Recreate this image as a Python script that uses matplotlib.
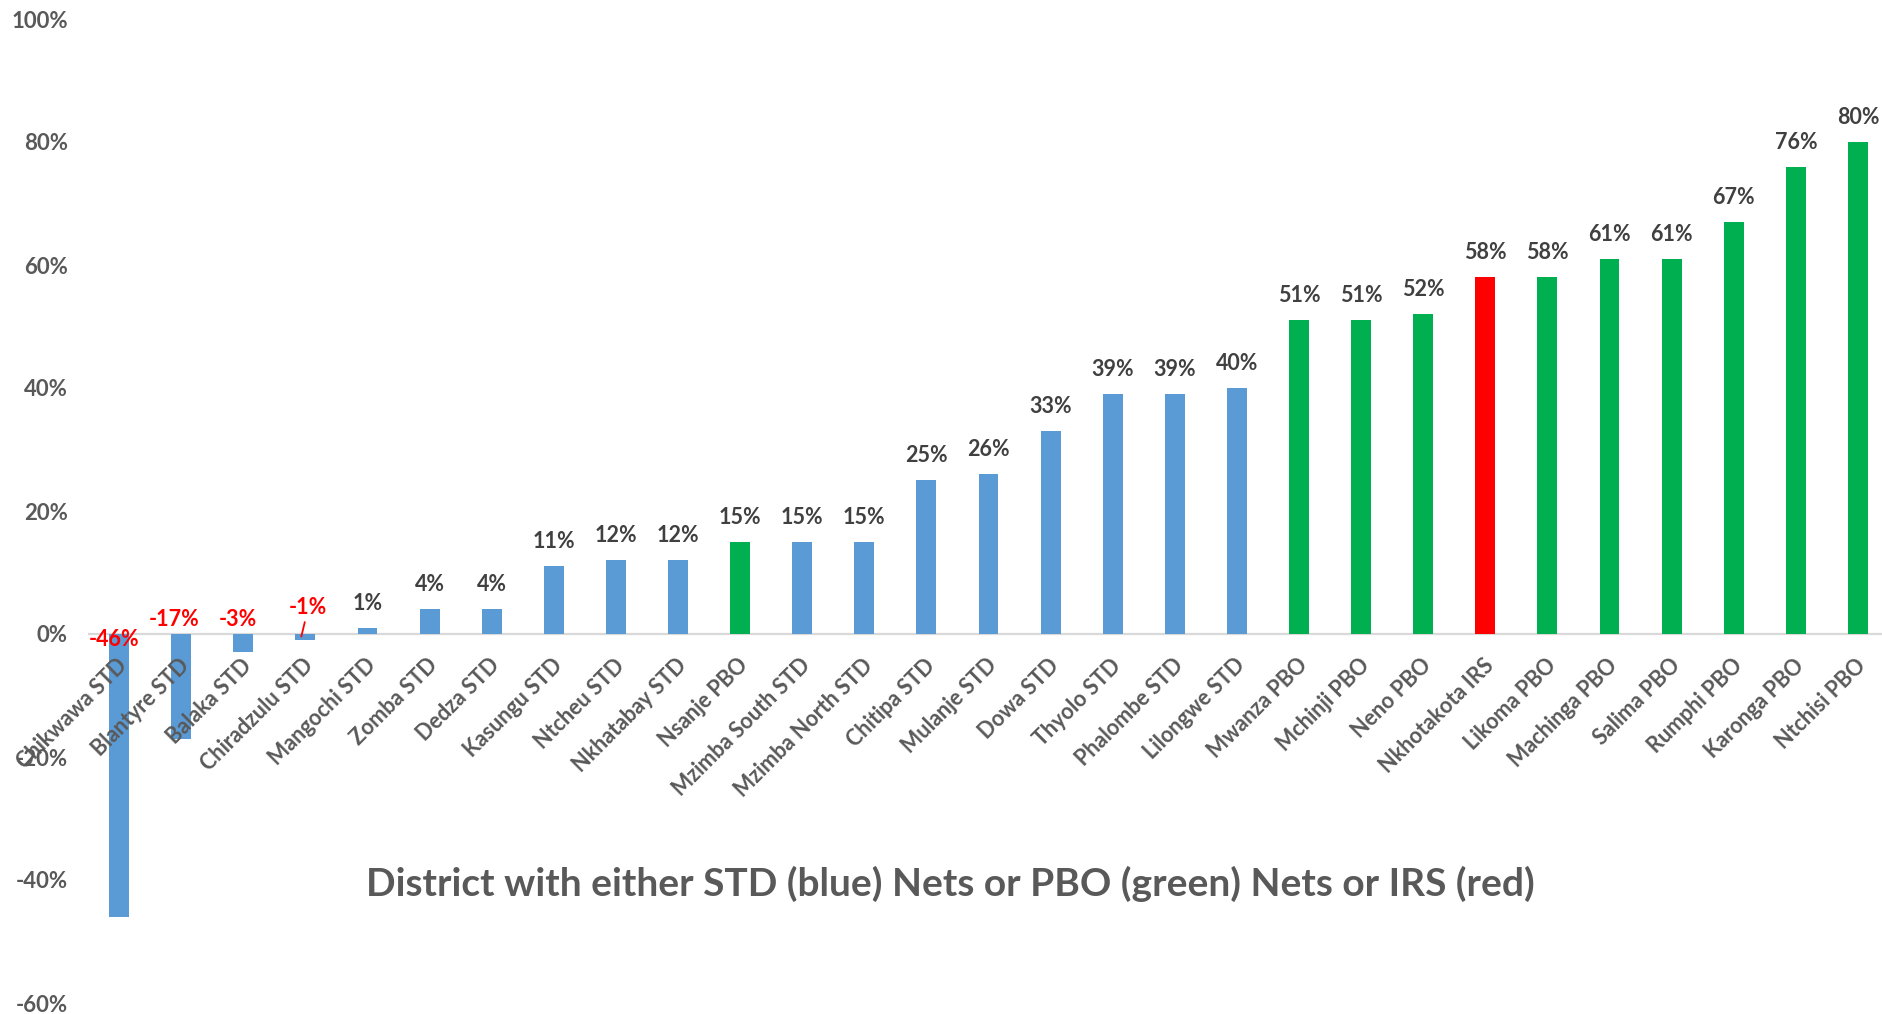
import matplotlib
matplotlib.use("Agg")
import matplotlib.pyplot as plt
from matplotlib.ticker import FuncFormatter

districts = ["Chikwawa STD", "Blantyre STD", "Balaka STD", "Chiradzulu STD", "Mangochi STD",
             "Zomba STD", "Dedza STD", "Kasungu STD", "Ntcheu STD", "Nkhatabay STD",
             "Nsanje PBO", "Mzimba South STD", "Mzimba North STD", "Chitipa STD", "Mulanje STD",
             "Dowa STD", "Thyolo STD", "Phalombe STD", "Lilongwe STD", "Mwanza PBO",
             "Mchinji PBO", "Neno PBO", "Nkhotakota IRS", "Likoma PBO", "Machinga PBO",
             "Salima PBO", "Rumphi PBO", "Karonga PBO", "Ntchisi PBO"]
values = [-46, -17, -3, -1, 1, 4, 4, 11, 12, 12, 15, 15, 15, 25, 26, 33, 39, 39, 40,
          51, 51, 52, 58, 58, 61, 61, 67, 76, 80]
intervention = ["STD"] * 10 + ["PBO"] + ["STD"] * 8 + ["PBO"] * 3 + ["IRS"] + ["PBO"] * 6
yticks = [-60, -40, -20, 0, 20, 40, 60, 80, 100]
title = "District with either STD (blue) Nets or PBO (green) Nets or IRS (red)"

colors = {"STD": "#5B9BD5", "PBO": "#00B050", "IRS": "#FF0000"}
FONT = "Lato"
GRAY = "#595959"
DARK = "#404040"

fig = plt.figure(figsize=(18.83, 10.14), dpi=100)
ax = fig.add_axes([88 / 1883, 1 - 1003 / 1014, 1801 / 1883, (1003 - 19) / 1014])

x = list(range(len(districts)))
ax.bar(x, values, width=0.32, color=[colors[t] for t in intervention], zorder=2)
ax.axhline(0, color="#D9D9D9", lw=1.6, zorder=1)

ax.set_xlim(-0.5, len(districts) - 0.5)
ax.set_ylim(-60, 100)
ax.set_yticks(yticks)
ax.yaxis.set_major_formatter(FuncFormatter(lambda v, p: f"{int(v)}%"))
ax.tick_params(axis="y", length=0, pad=14.5)
ax.tick_params(axis="x", length=0, labelbottom=False)
for lab in ax.get_yticklabels():
    lab.set_fontfamily(FONT)
    lab.set_fontweight("bold")
    lab.set_fontsize(16)
    lab.set_color(GRAY)
for s in ax.spines.values():
    s.set_visible(False)

# category labels, rotated
for i, name in enumerate(districts):
    ax.annotate(name, xy=(i, 0), xytext=(5, -28), textcoords="offset pixels",
                ha="right", va="center", rotation=45, rotation_mode="anchor",
                fontfamily=FONT, fontweight="bold", fontsize=15.5, color=GRAY)

# data labels
neg_offsets = {0: (-5, -6), 1: (-7, 14), 2: (-5, 14)}
for i, v in enumerate(values):
    if v >= 0:
        ax.annotate(f"{v}%", xy=(i, v), xytext=(0, 14), textcoords="offset pixels",
                    ha="center", va="bottom", fontfamily=FONT, fontweight="bold",
                    fontsize=15.5, color=DARK)
    elif i in neg_offsets:
        dx, dy = neg_offsets[i]
        ax.annotate(f"{v}%", xy=(i, 0), xytext=(dx, dy), textcoords="offset pixels",
                    ha="center", va="center", fontfamily=FONT, fontweight="bold",
                    fontsize=15.5, color="#FF0000")
    else:
        ax.annotate(f"{v}%", xy=(i - 0.065, -0.4), xytext=(7, 29), textcoords="offset pixels",
                    ha="center", va="center", fontfamily=FONT, fontweight="bold",
                    fontsize=15.5, color="#FF0000",
                    arrowprops=dict(arrowstyle="-", color="#FF0000", lw=1.3,
                                    shrinkA=1, shrinkB=0))

fig.text(950 / 1883, 1 - 884 / 1014, title, ha="center", va="center",
         fontfamily=FONT, fontweight="bold", fontsize=28, color=GRAY)

fig.savefig("out.png", dpi=100)
